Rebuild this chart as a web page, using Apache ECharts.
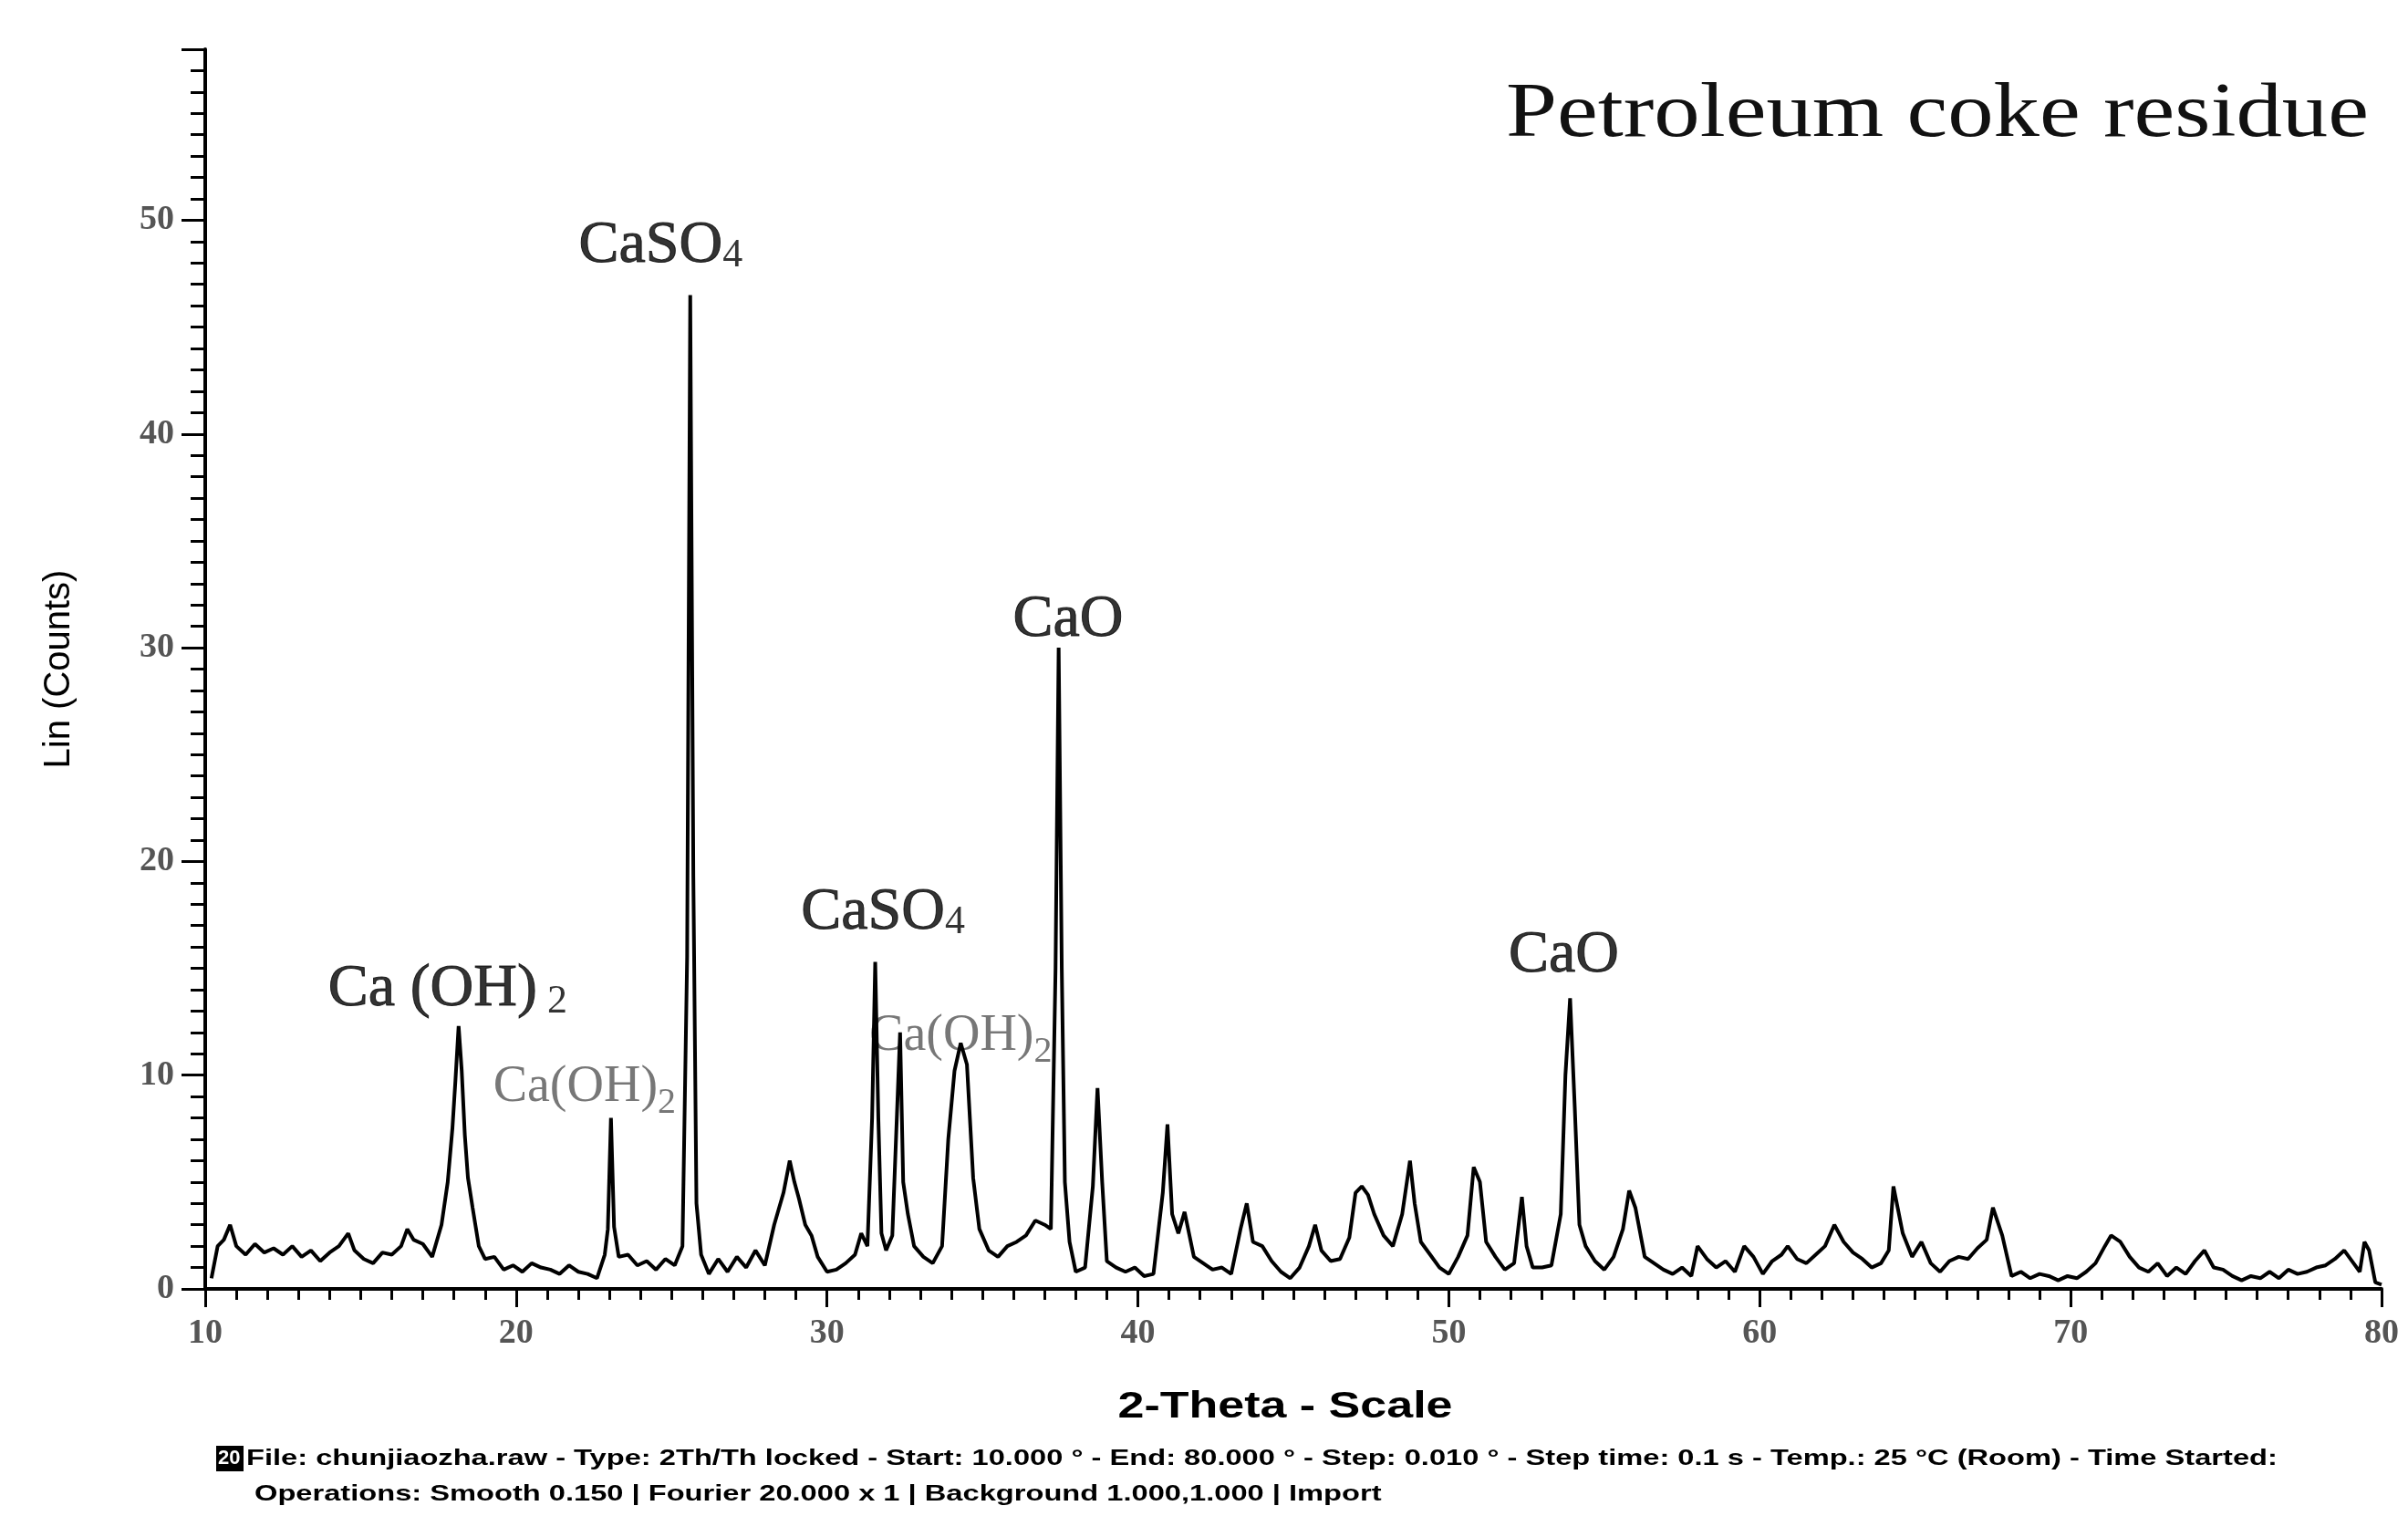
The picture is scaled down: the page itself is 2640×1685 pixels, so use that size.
<!DOCTYPE html>
<html><head><meta charset="utf-8">
<script src="https://cdn.jsdelivr.net/npm/echarts@6/dist/echarts.min.js"></script>
<style>html,body{margin:0;padding:0;background:#fff}#c{width:2640px;height:1685px}</style>
</head><body><div id="c"></div>
<script>
const twoTheta = [10.2,10.4,10.6,10.8,11.0,11.3,11.6,11.9,12.2,12.5,12.8,13.1,13.4,13.7,14.0,14.3,14.6,14.8,15.1,15.4,15.7,16.0,16.3,16.5,16.7,17.0,17.3,17.6,17.8,17.95,18.05,18.15,18.25,18.35,18.45,18.6,18.8,19.0,19.3,19.6,19.9,20.2,20.5,20.8,21.1,21.4,21.7,22.0,22.3,22.6,22.85,22.95,23.05,23.15,23.3,23.6,23.9,24.2,24.5,24.8,25.1,25.35,25.5,25.6,25.7,25.8,25.95,26.2,26.5,26.8,27.1,27.4,27.7,28.0,28.3,28.6,28.8,28.95,29.1,29.3,29.5,29.7,30.0,30.3,30.6,30.9,31.1,31.3,31.45,31.55,31.65,31.75,31.9,32.1,32.25,32.35,32.45,32.6,32.8,33.1,33.4,33.7,33.9,34.1,34.3,34.5,34.7,34.9,35.2,35.5,35.8,36.1,36.4,36.7,37.0,37.2,37.35,37.45,37.55,37.65,37.8,38.0,38.3,38.55,38.7,38.85,39.0,39.3,39.6,39.9,40.2,40.5,40.8,40.95,41.1,41.3,41.5,41.8,42.1,42.4,42.7,43.0,43.3,43.5,43.7,44.0,44.3,44.6,44.9,45.2,45.5,45.7,45.9,46.2,46.5,46.8,47.0,47.2,47.4,47.6,47.9,48.2,48.5,48.75,48.9,49.1,49.4,49.7,50.0,50.3,50.6,50.8,51.0,51.2,51.5,51.8,52.1,52.35,52.5,52.7,53.0,53.3,53.6,53.75,53.9,54.05,54.2,54.4,54.7,55.0,55.3,55.6,55.8,56.0,56.3,56.6,56.9,57.2,57.5,57.8,58.0,58.3,58.6,58.9,59.2,59.5,59.8,60.1,60.4,60.7,60.9,61.2,61.5,61.8,62.1,62.4,62.7,63.0,63.3,63.6,63.9,64.15,64.3,64.6,64.9,65.2,65.5,65.8,66.1,66.4,66.7,67.0,67.3,67.5,67.8,68.1,68.4,68.7,69.0,69.3,69.6,69.9,70.2,70.5,70.8,71.1,71.3,71.6,71.9,72.2,72.5,72.8,73.1,73.4,73.7,74.0,74.3,74.6,74.9,75.2,75.5,75.8,76.1,76.4,76.7,77.0,77.3,77.6,77.9,78.2,78.5,78.8,79.1,79.3,79.45,79.6,79.8,80.0];
const linCounts = [0.5,2.0,2.3,3.0,2.0,1.6,2.1,1.7,1.9,1.6,2.0,1.5,1.8,1.3,1.7,2.0,2.6,1.8,1.4,1.2,1.7,1.6,2.0,2.8,2.3,2.1,1.5,3.0,5.0,7.5,9.8,12.3,10.2,7.2,5.2,3.8,2.0,1.4,1.5,0.9,1.1,0.8,1.2,1.0,0.9,0.7,1.1,0.8,0.7,0.5,1.6,2.8,8.0,2.9,1.5,1.6,1.1,1.3,0.9,1.4,1.1,2.0,15.5,46.5,19.3,4.0,1.6,0.7,1.4,0.8,1.5,1.0,1.8,1.1,3.0,4.5,6.0,5.0,4.2,3.0,2.5,1.5,0.8,0.9,1.2,1.6,2.6,2.0,8.0,15.3,8.0,2.6,1.8,2.5,8.2,12.0,5.0,3.5,2.0,1.5,1.2,2.0,7.0,10.2,11.5,10.5,5.2,2.8,1.8,1.5,2.0,2.2,2.5,3.2,3.0,2.8,15.0,30.0,15.0,5.0,2.2,0.8,1.0,4.8,9.4,5.0,1.3,1.0,0.8,1.0,0.6,0.7,4.5,7.7,3.5,2.6,3.6,1.5,1.2,0.9,1.0,0.7,2.8,4.0,2.2,2.0,1.3,0.8,0.5,1.0,2.0,3.0,1.8,1.3,1.4,2.4,4.5,4.8,4.4,3.5,2.5,2.0,3.5,6.0,4.0,2.2,1.6,1.0,0.7,1.5,2.5,5.7,5.0,2.2,1.5,0.9,1.2,4.3,2.0,1.0,1.0,1.1,3.5,10.0,13.6,8.5,3.0,2.0,1.3,0.9,1.5,2.8,4.6,3.8,1.5,1.2,0.9,0.7,1.0,0.6,2.0,1.4,1.0,1.3,0.8,2.0,1.5,0.7,1.3,1.6,2.0,1.4,1.2,1.6,2.0,3.0,2.2,1.7,1.4,1.0,1.2,1.8,4.8,2.6,1.5,2.2,1.2,0.8,1.3,1.5,1.4,1.9,2.3,3.8,2.5,0.6,0.8,0.5,0.7,0.6,0.4,0.6,0.5,0.8,1.2,2.0,2.5,2.2,1.5,1.0,0.8,1.2,0.6,1.0,0.7,1.3,1.8,1.0,0.9,0.6,0.4,0.6,0.5,0.8,0.5,0.9,0.7,0.8,1.0,1.1,1.4,1.8,1.2,0.8,2.2,1.8,0.3,0.2,0.0];
const yTicks = [0,10,20,30,40,50];
const annoX = [17.8,24.65,31.8,37.75,53.7,22.2,34.3];
const annoY = [14.0,48.8,17.6,31.3,15.6,9.4,11.8];
const annoText = ['{b|Ca (OH)}{s| 2}','{b|CaSO}{bs|4}','{b|CaSO}{bs|4}','{b|CaO}','{b|CaO}','{g|Ca(OH)}{gs|2}','{g|Ca(OH)}{gs|2}'];

const chart = echarts.init(document.getElementById('c'));
const serif = 'Liberation Serif';
chart.setOption({
  animation:false,
  backgroundColor:'#fff',
  grid:{left:225,right:29,top:54,bottom:272},
  xAxis:{type:'value',min:10,max:80,interval:10,
    axisLine:{lineStyle:{color:'#000',width:4}},
    axisTick:{show:true,length:20,lineStyle:{color:'#000',width:3}},
    minorTick:{show:true,splitNumber:10,length:12,lineStyle:{color:'#000',width:3}},
    splitLine:{show:false},
    axisLabel:{fontFamily:serif,fontWeight:'bold',fontSize:38,color:'#555',margin:30}},
  yAxis:{type:'value',min:0,max:58,interval:10,
    axisLine:{show:true,lineStyle:{color:'#000',width:4}},
    axisTick:{show:true,length:26,lineStyle:{color:'#000',width:3}},
    minorTick:{show:true,splitNumber:10,length:16,lineStyle:{color:'#000',width:3}},
    splitLine:{show:false},
    axisLabel:{fontFamily:serif,fontWeight:'bold',fontSize:38,color:'#555',margin:34,
      formatter:v=>yTicks.indexOf(v)>=0?String(v):''},
    name:'Lin (Counts)',nameLocation:'middle',nameGap:140,
    nameTextStyle:{fontFamily:'Liberation Sans',fontSize:40,color:'#000'}},
  series:[
    {type:'line',data:twoTheta.map((x,i)=>[x,linCounts[i]]),showSymbol:false,
     lineStyle:{color:'#000',width:4}},
    {type:'scatter',symbolSize:0,data:annoX.map((x,i)=>[x,annoY[i]]),
     label:{show:true,position:'inside',formatter:p=>annoText[p.dataIndex],
       rich:{b:{fontFamily:serif,fontSize:66,color:'#000',textBorderColor:'#000',textBorderWidth:1},
             s:{fontFamily:serif,fontSize:44,color:'#000',padding:[26,0,0,0]},
             bs:{fontFamily:serif,fontSize:44,color:'#000',padding:[22,0,0,0]},
             g:{fontFamily:serif,fontSize:56,color:'#555'},
             gs:{fontFamily:serif,fontSize:40,color:'#555',padding:[34,0,0,0]}}}}
  ],
  graphic:[
    {type:'text',x:2597,y:127,scaleX:1.2,style:{text:'Petroleum coke residue',font:'84px "Liberation Serif"',fill:'#111',align:'right',verticalAlign:'middle'}},
    {type:'text',x:1409,y:1543,scaleX:1.3,style:{text:'2-Theta - Scale',font:'bold 40px "Liberation Sans"',fill:'#000',align:'center',verticalAlign:'middle'}},
    {type:'rect',x:237,y:1585,shape:{width:30,height:28},style:{fill:'#000'}},
    {type:'text',x:239,y:1588,style:{text:'20',font:'bold 22px "Liberation Sans"',fill:'#fff'}},
    {type:'text',x:270,y:1587,scaleX:1.36,style:{text:'File: chunjiaozha.raw - Type: 2Th/Th locked - Start: 10.000 ° - End: 80.000 ° - Step: 0.010 ° - Step time: 0.1 s - Temp.: 25 °C (Room) - Time Started:',font:'bold 24px "Liberation Sans"',fill:'#000'}},
    {type:'text',x:279,y:1626,scaleX:1.36,style:{text:'Operations: Smooth 0.150 | Fourier 20.000 x 1 | Background 1.000,1.000 | Import',font:'bold 24px "Liberation Sans"',fill:'#000'}}
  ]
});
</script></body></html>
